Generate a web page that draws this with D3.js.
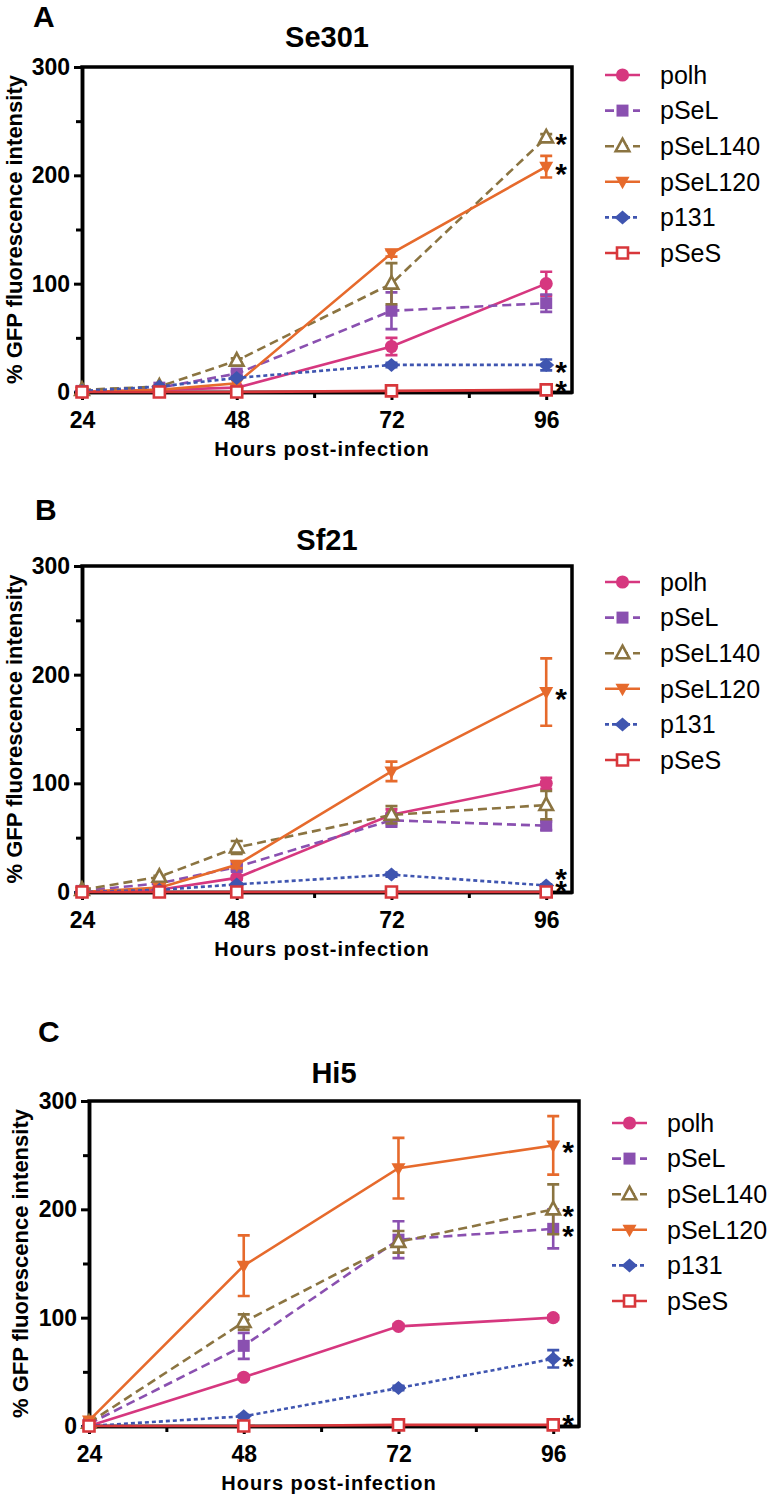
<!DOCTYPE html>
<html>
<head>
<meta charset="utf-8">
<script src="https://cdn.jsdelivr.net/npm/d3@7"></script>
<style>
  body { margin: 0; background: #fff; }
  text { font-family: "Liberation Sans", Arial, sans-serif; }
</style>
</head>
<body>
<svg id="chart" width="772" height="1500"></svg>
<script>
// series shared by all three panels
const seriesNames = ['polh', 'pSeL', 'pSeL140', 'pSeL120', 'p131', 'pSeS'];
const seriesColors = ['#d6377f', '#8a50b0', '#8b7441', '#e66a2c', '#3f55b0', '#d8373b'];
const seriesDash = [null, '9,5', '9,5', null, '4,3', null];
const seriesMarker = ['circle', 'square', 'triangleOpen', 'triangleDown', 'diamond', 'squareOpen'];

const yTicks = [0, 100, 200, 300];
const yMinorTicks = [50, 150, 250];
const xTicks = [24, 48, 72, 96];
const xMinorTicks = [36, 60, 84];

// A: Se301
const hoursSe301 = [24, 36, 48, 72, 96];
const se301Means = [
  [0, 2, 4, 42, 100],
  [1, 4, 17, 75, 82],
  [2, 5, 29, 100, 235],
  [0, 2, 8, 128, 208],
  [1, 5, 13, 25, 25],
  [0, 0, 0, 1, 2]
];
const se301Errors = [
  [0, 0, 0, 8, 11],
  [0, 0, 2, 17, 8],
  [0, 0, 2, 19, 3],
  [0, 0, 0, 3, 10],
  [0, 0, 1, 2, 5],
  [0, 0, 0, 0, 0]
];
const se301Stars = ['pSeL140', 'pSeL120', 'p131', 'pSeS'];

// B: Sf21
const hoursSf21 = [24, 36, 48, 72, 96];
const sf21Means = [
  [0, 2, 13, 71, 100],
  [1, 8, 23, 66, 61],
  [2, 14, 41, 71, 80],
  [0, 4, 25, 111, 184],
  [0, 2, 7, 16, 6],
  [0, 0, 0, 0, 0]
];
const sf21Errors = [
  [0, 0, 2, 5, 5],
  [0, 1, 3, 6, 4],
  [0, 1, 6, 8, 13],
  [0, 0, 3, 9, 31],
  [0, 0, 1, 2, 1],
  [0, 0, 0, 0, 0]
];
const sf21Stars = ['pSeL120', 'p131', 'pSeS'];

// C: Hi5
const hoursHi5 = [24, 48, 72, 96];
const hi5Means = [
  [0, 45, 92, 100],
  [2, 74, 172, 182],
  [3, 96, 170, 200],
  [5, 148, 238, 259],
  [0, 9, 35, 62],
  [0, 0, 1, 1]
];
const hi5Errors = [
  [0, 2, 2, 2],
  [0, 12, 17, 18],
  [0, 7, 10, 23],
  [0, 28, 28, 27],
  [0, 1, 2, 8],
  [0, 0, 0, 0]
];
const hi5Stars = ['pSeL120', 'pSeL140', 'pSeL', 'p131', 'pSeS'];

const panels = [
  { letter: 'A', title: 'Se301', hours: hoursSe301, means: se301Means, errors: se301Errors, stars: se301Stars,
    left: 82, right: 572, top: 67, bottom: 392, letterX: 33, letterY: 27, titleY: 47, ylabX: 22, legendY: 75 },
  { letter: 'B', title: 'Sf21', hours: hoursSf21, means: sf21Means, errors: sf21Errors, stars: sf21Stars,
    left: 82, right: 572, top: 566, bottom: 892, letterX: 35, letterY: 520, titleY: 550, ylabX: 22, legendY: 582 },
  { letter: 'C', title: 'Hi5', hours: hoursHi5, means: hi5Means, errors: hi5Errors, stars: hi5Stars,
    left: 89, right: 579, top: 1101, bottom: 1426, letterX: 38, letterY: 1042, titleY: 1083, ylabX: 28, legendY: 1123 }
];

// marker shapes
const shapes = {
  circle: d3.symbol(d3.symbolCircle, 135)(),
  square: 'M-6,-6H6V6H-6Z',
  squareOpen: 'M-5.5,-5.5H5.5V5.5H-5.5Z',
  triangleOpen: 'M0,-7.5L6.8,5L-6.8,5Z',
  triangleDown: 'M0,7.5L7,-5L-7,-5Z',
  diamond: 'M0,-7L8,0L0,7L-8,0Z'
};

function drawMarker(g, kind, color, x, y) {
  const open = kind === 'triangleOpen' || kind === 'squareOpen';
  g.append('path')
    .attr('d', shapes[kind])
    .attr('transform', `translate(${x},${y})`)
    .attr('fill', open ? '#fff' : color)
    .attr('stroke', open ? color : 'none')
    .attr('stroke-width', 2.6);
}

const svg = d3.select('#chart');

panels.forEach(p => {
  const x = d3.scaleLinear().domain([24, 100]).range([p.left, p.right]);
  const y = d3.scaleLinear().domain([0, 300]).range([p.bottom, p.top]);
  const g = svg.append('g');

  // panel letter and title
  g.append('text').attr('x', p.letterX).attr('y', p.letterY)
    .attr('font-size', 30).attr('font-weight', 'bold').text(p.letter);
  g.append('text').attr('x', (p.left + p.right) / 2).attr('y', p.titleY)
    .attr('text-anchor', 'middle').attr('font-size', 29).attr('font-weight', 'bold').text(p.title);

  // axes
  g.append('g').attr('transform', `translate(${p.left},0)`)
    .call(d3.axisLeft(y).tickValues(yTicks).tickSize(8).tickSizeOuter(0).tickPadding(4));
  g.append('g').attr('transform', `translate(${p.left},0)`)
    .call(d3.axisLeft(y).tickValues(yMinorTicks).tickSize(6).tickSizeOuter(0).tickFormat(''));
  g.append('g').attr('transform', `translate(0,${p.bottom})`)
    .call(d3.axisBottom(x).tickValues(xTicks).tickSize(8).tickSizeOuter(0).tickPadding(12));
  g.append('g').attr('transform', `translate(0,${p.bottom})`)
    .call(d3.axisBottom(x).tickValues(xMinorTicks).tickSize(6).tickSizeOuter(0).tickFormat(''));
  g.selectAll('.domain').attr('stroke', '#000').attr('stroke-width', 3.5);
  g.selectAll('.tick line').attr('stroke', '#000').attr('stroke-width', 3);
  g.selectAll('.tick text').attr('font-size', 23).attr('font-weight', 'bold')
    .attr('font-family', '"Liberation Sans", Arial, sans-serif').attr('fill', '#000');

  // top and right frame
  g.append('path')
    .attr('d', `M${p.left - 1.7},${p.top}H${p.right}V${p.bottom + 1.7}`)
    .attr('fill', 'none').attr('stroke', '#000').attr('stroke-width', 3.5);

  // axis labels
  g.append('text')
    .attr('transform', `translate(${p.ylabX},${(p.top + p.bottom) / 2}) rotate(-90)`)
    .attr('text-anchor', 'middle').attr('font-size', 22).attr('font-weight', 'bold')
    .text('% GFP fluorescence intensity');
  g.append('text').attr('x', (p.left + p.right) / 2 - 5).attr('y', p.bottom + 64)
    .attr('text-anchor', 'middle').attr('font-size', 20).attr('font-weight', 'bold')
    .attr('letter-spacing', 1).text('Hours post-infection');

  // series
  const line = d3.line().x(d => x(d[0])).y(d => y(d[1]));
  seriesNames.forEach((name, i) => {
    const pts = p.hours.map((h, j) => [h, p.means[i][j], p.errors[i][j]]);
    const color = seriesColors[i];
    const sg = g.append('g');
    sg.append('path').datum(pts).attr('d', line)
      .attr('fill', 'none').attr('stroke', color).attr('stroke-width', 2.6)
      .attr('stroke-dasharray', seriesDash[i]);
    pts.filter(d => d[2] > 0).forEach(d => {
      const cx = x(d[0]);
      const y1 = y(d[1] + d[2]), y0 = y(Math.max(0, d[1] - d[2]));
      sg.append('path')
        .attr('d', `M${cx},${y1}V${y0}M${cx - 6},${y1}H${cx + 6}M${cx - 6},${y0}H${cx + 6}`)
        .attr('fill', 'none').attr('stroke', color).attr('stroke-width', 2.6);
    });
    pts.forEach(d => drawMarker(sg, seriesMarker[i], color, x(d[0]), y(d[1])));
  });

  // significance asterisks at 96 h
  const last = p.hours.length - 1;
  const stars = p.stars.map(n => {
    const i = seriesNames.indexOf(n);
    return Math.min(y(p.means[i][last]), p.bottom - 8);
  }).sort((a, b) => b - a);
  for (let k = 1; k < stars.length; k++) {
    if (stars[k - 1] - stars[k] < 12) stars[k] = stars[k - 1] - 12;
  }
  stars.forEach(sy => {
    g.append('text').attr('x', x(96) + 15).attr('y', sy + 17)
      .attr('text-anchor', 'middle').attr('font-size', 30).attr('font-weight', 'bold').text('*');
  });

  // legend
  seriesNames.forEach((name, i) => {
    const ly = p.legendY + i * 35.6;
    const lx = p.right + 33;
    g.append('line').attr('x1', lx).attr('x2', lx + 35).attr('y1', ly).attr('y2', ly)
      .attr('stroke', seriesColors[i]).attr('stroke-width', 2.6).attr('stroke-dasharray', seriesDash[i]);
    drawMarker(g, seriesMarker[i], seriesColors[i], lx + 17.5, ly);
    g.append('text').attr('x', p.right + 88).attr('y', ly).attr('dy', '0.35em')
      .attr('font-size', 25).text(name);
  });
});
</script>
</body>
</html>
